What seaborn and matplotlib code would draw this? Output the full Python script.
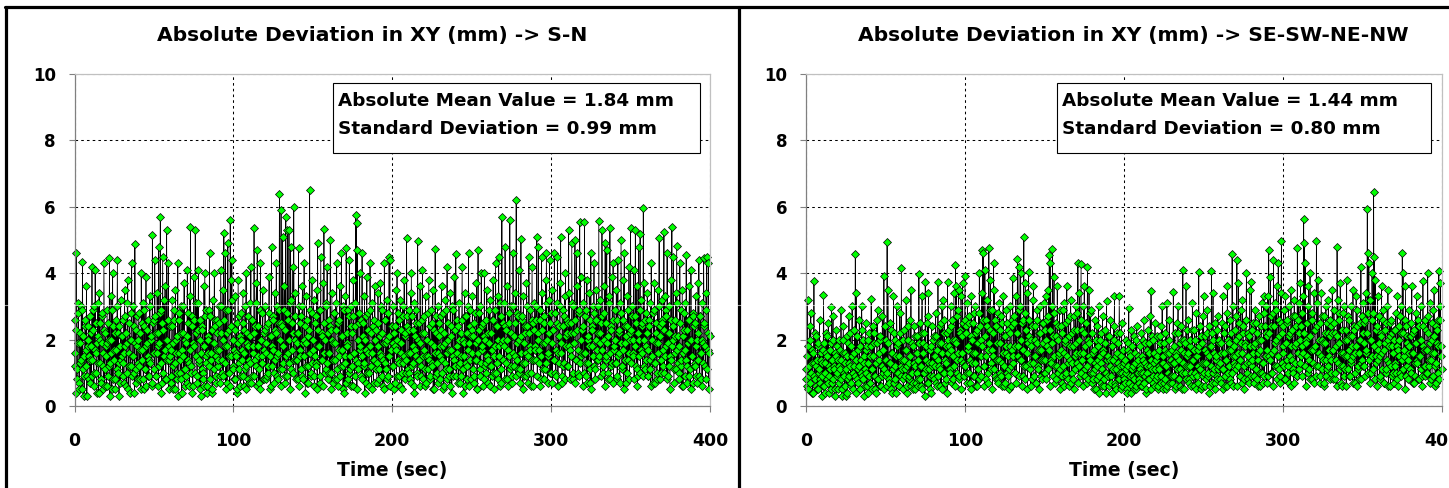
import numpy as np
import pandas as pd
import matplotlib
matplotlib.use("Agg")
import matplotlib.pyplot as plt
from matplotlib.lines import Line2D
from matplotlib.patches import Rectangle
import seaborn as sns

# ---------------- data (read/estimated from the picture) ----------------
SAMPLE_STEP = 0.5   # seconds between samples within one list
HALF_OFFSET = 0.25  # second list is sampled half-way between the first

titles = ["Absolute Deviation in XY (mm) -> S-N",
          "Absolute Deviation in XY (mm) -> SE-SW-NE-NW"]
stats_mean = [1.84, 1.44]
stats_std = [0.99, 0.80]
x_ticks = [0, 100, 200, 300, 400]
y_ticks = [0, 2, 4, 6, 8, 10]

# S-N : samples at t = 0, 0.5, 1.0, ...
dev_sn = [
    1.2, 2.6, 4.6, 0.8, 1.9, 3.1, 0.5, 2.2, 1.4, 2.9, 4.35, 1.1, 0.3, 2.4, 1.7, 3.6, 0.9, 2.0, 1.5, 2.7,
    0.7, 1.8, 4.2, 2.3, 1.0, 3.0, 4.1, 1.6, 0.4, 2.1, 1.3, 3.4, 2.5, 0.8, 1.9, 2.8, 1.2, 4.3, 0.6, 2.2,
    1.5, 2.9, 0.9, 2.0, 4.45, 1.3, 3.3, 0.5, 4.0, 2.4, 1.7, 0.8, 2.6, 1.1, 4.4, 2.2, 0.3, 1.8, 3.2, 1.4,
    2.1, 0.9, 1.6, 3.5, 2.7, 0.6, 1.9, 3.8, 1.2, 2.5, 0.4, 2.0, 4.3, 1.5, 3.0, 1.0, 4.87, 2.3, 0.7, 1.8,
    1.3, 2.8, 0.8, 2.2, 4.0, 1.7, 3.1, 0.5, 2.4, 1.1, 3.9, 1.9, 0.9, 2.6, 1.4, 3.3, 2.0, 0.6, 5.14, 2.5,
    1.6, 4.4, 2.2, 0.9, 3.4, 1.8, 4.8, 1.2, 5.7, 2.9, 0.7, 4.5, 2.3, 1.5, 3.6, 0.8, 5.3, 2.0, 4.3, 1.4,
    2.4, 0.9, 1.7, 3.2, 0.5, 2.6, 1.3, 3.5, 2.0, 0.8, 4.3, 1.6, 2.8, 1.0, 3.0, 0.4, 2.2, 1.5, 3.7, 1.1,
    1.9, 0.7, 4.1, 2.5, 1.3, 3.3, 5.4, 1.0, 2.7, 0.6, 3.9, 1.8, 5.3, 2.2, 0.9, 3.1, 4.1, 1.4, 2.6, 0.3,
    1.1, 2.3, 0.8, 3.6, 4.0, 1.5, 2.9, 0.6, 2.0, 1.2, 4.6, 2.7, 1.6, 0.4, 3.2, 1.9, 4.0, 2.4, 0.9, 1.7,
    2.6, 1.4, 3.0, 0.9, 4.1, 2.2, 1.0, 3.5, 5.2, 1.8, 4.6, 2.9, 0.7, 4.9, 2.3, 1.5, 5.6, 3.8, 4.4, 1.2,
    2.0, 0.8, 3.3, 1.6, 2.5, 0.5, 3.8, 1.3, 2.1, 0.9, 2.8, 1.7, 3.4, 0.6, 2.3, 1.1, 4.0, 1.9, 0.8, 2.7,
    1.4, 3.1, 4.2, 0.9, 2.6, 1.8, 5.35, 2.4, 1.2, 3.7, 4.7, 1.5, 0.7, 2.9, 4.3, 2.0, 1.3, 3.5, 0.8, 2.2,
    3.0, 1.6, 0.9, 2.5, 1.2, 3.9, 2.1, 0.6, 4.8, 1.8, 2.7, 1.0, 3.4, 2.3, 4.3, 1.5, 0.8, 2.9, 6.4, 2.0,
    5.9, 2.4, 5.1, 1.3, 3.6, 0.9, 5.7, 2.8, 5.3, 1.6, 5.3, 3.1, 4.8, 1.1, 2.5, 4.2, 6.0, 2.0, 3.4, 1.4,
    2.2, 0.8, 4.75, 3.0, 1.5, 2.7, 0.9, 3.6, 1.9, 4.3, 2.4, 1.2, 3.3, 0.7, 2.1, 1.6, 6.5, 2.9, 1.0, 3.8,
    1.7, 3.2, 0.6, 2.5, 1.3, 3.5, 4.9, 1.8, 2.9, 0.9, 4.5, 2.2, 1.4, 3.7, 5.33, 2.0, 1.1, 3.0, 4.2, 1.6,
    2.6, 1.0, 5.0, 2.3, 3.4, 0.7, 1.9, 2.8, 1.4, 3.1, 4.3, 0.8, 2.5, 1.7, 3.6, 1.2, 4.6, 2.1, 0.5, 2.9,
    1.5, 3.3, 4.75, 1.9, 0.8, 2.7, 4.4, 1.1, 3.0, 2.2, 0.6, 3.8, 1.6, 2.4, 5.75, 5.5, 4.7, 1.3, 2.8, 4.0,
    1.8, 0.9, 4.6, 2.5, 1.2, 3.3, 2.0, 0.7, 3.9, 1.6, 2.8, 1.0, 4.3, 2.2, 0.5, 3.1, 1.4, 2.6, 3.6, 1.1,
    2.3, 1.3, 3.4, 0.8, 2.1, 3.7, 1.5, 2.9, 0.6, 1.9, 4.3, 2.6, 1.1, 3.2, 2.0, 0.9, 4.5, 4.4, 1.7, 2.4,
    1.2, 3.0, 2.2, 0.7, 1.8, 3.5, 4.0, 1.4, 2.6, 0.9, 3.2, 1.9, 0.5, 2.7, 1.3, 3.8, 2.1, 1.0, 5.06, 2.4,
    1.6, 2.9, 0.8, 3.4, 4.0, 1.2, 2.3, 0.6, 3.1, 1.7, 2.5, 1.0, 4.98, 2.0, 1.4, 3.6, 0.9, 2.2, 4.1, 1.5,
    2.7, 1.1, 3.3, 0.7, 2.0, 1.5, 3.8, 2.4, 0.9, 2.9, 1.3, 3.5, 1.8, 0.5, 4.73, 2.2, 1.0, 3.0, 1.6, 2.5,
    0.8, 2.3, 3.6, 1.4, 2.8, 0.6, 1.9, 3.2, 1.1, 4.2, 2.5, 0.9, 1.7, 3.4, 2.1, 0.4, 2.9, 1.5, 3.9, 1.2,
    4.57, 1.8, 2.6, 0.7, 3.1, 1.3, 2.2, 0.9, 4.2, 2.0, 1.5, 3.4, 0.6, 2.7, 1.2, 3.0, 4.6, 1.9, 2.4, 0.8,
    1.6, 3.3, 2.1, 0.9, 2.8, 1.4, 3.7, 0.5, 4.7, 2.3, 1.1, 3.0, 4.0, 1.7, 2.5, 0.8, 4.0, 2.0, 1.3, 3.5,
    2.2, 0.7, 1.9, 3.2, 1.2, 2.6, 0.9, 3.8, 1.5, 2.9, 4.3, 1.0, 2.4, 3.3, 4.5, 1.8, 0.6, 2.7, 5.7, 2.0,
    1.4, 3.1, 4.8, 2.3, 0.8, 3.6, 1.7, 2.5, 5.6, 1.2, 3.0, 0.9, 4.6, 2.1, 1.5, 3.4, 6.2, 2.8, 1.1, 4.1,
    2.0, 0.7, 5.03, 2.6, 1.3, 3.3, 0.9, 2.2, 1.6, 3.7, 2.4, 1.0, 4.5, 1.8, 2.9, 0.6, 4.2, 2.5, 1.4, 3.1,
    1.7, 3.0, 5.1, 2.2, 4.8, 1.3, 2.6, 0.8, 4.5, 3.4, 1.9, 2.7, 1.1, 3.8, 4.6, 2.0, 1.5, 3.2, 4.4, 2.5,
    1.0, 3.5, 2.3, 1.4, 4.6, 2.8, 0.9, 3.1, 4.5, 1.6, 2.4, 3.7, 5.08, 1.9, 0.7, 2.9, 1.3, 3.3, 4.0, 2.1,
    2.6, 1.2, 5.3, 3.4, 1.7, 2.5, 4.9, 0.8, 3.0, 2.2, 5.0, 1.4, 4.6, 3.6, 1.0, 2.8, 5.54, 3.9, 1.5, 2.3,
    3.1, 1.6, 5.53, 2.7, 0.9, 3.8, 2.0, 1.3, 3.4, 0.7, 4.6, 2.4, 1.8, 3.0, 4.3, 1.1, 2.6, 3.5, 1.4, 2.2,
    5.58, 1.9, 3.2, 2.5, 5.3, 1.0, 2.8, 3.6, 4.9, 1.5, 4.7, 2.1, 0.8, 3.3, 5.35, 2.4, 1.2, 3.9, 4.3, 1.7,
    2.9, 1.3, 3.5, 0.8, 4.4, 2.2, 1.6, 3.1, 5.0, 1.1, 2.6, 3.8, 4.6, 1.9, 0.7, 2.4, 3.3, 1.4, 4.2, 2.0,
    5.37, 2.3, 3.0, 1.5, 4.1, 2.7, 5.3, 1.2, 3.6, 0.9, 4.8, 2.0, 5.18, 3.2, 1.6, 2.5, 5.95, 3.7, 1.1, 2.8,
    1.8, 3.4, 0.9, 2.6, 1.4, 3.1, 4.3, 2.0, 0.7, 2.9, 3.7, 1.3, 2.2, 0.8, 3.5, 1.9, 5.07, 2.4, 1.0, 3.2,
    2.5, 1.2, 5.23, 3.3, 1.8, 2.7, 4.6, 0.9, 3.0, 2.2, 1.5, 3.8, 5.4, 2.0, 4.5, 1.1, 2.6, 3.4, 4.83, 1.7,
    2.1, 0.8, 4.3, 2.9, 1.4, 3.5, 0.6, 2.3, 1.7, 3.1, 4.55, 1.2, 2.6, 0.9, 3.6, 2.0, 4.1, 1.5, 2.8, 0.7,
    2.4, 1.3, 3.3, 0.9, 2.0, 3.7, 4.4, 1.6, 2.7, 0.8, 3.1, 1.9, 4.45, 2.5, 1.2, 3.4, 4.5, 2.2, 4.3, 1.6,
]

# S-N : samples at t = 0.25, 0.75, 1.25, ...
dev_sn_mid = [
    1.6, 0.4, 2.3, 1.1, 2.8, 0.7, 1.9, 1.3, 3.0, 0.5, 2.1, 1.5, 0.9, 2.6, 1.2, 0.3, 1.8, 2.4, 0.8, 1.4,
    2.2, 0.9, 1.4, 2.9, 0.6, 1.7, 2.5, 1.0, 1.9, 3.1, 0.4, 1.3, 2.0, 0.7, 2.7, 1.6, 0.5, 2.3, 1.1, 1.8,
    0.6, 1.9, 2.5, 1.2, 0.3, 2.0, 1.6, 2.9, 0.8, 1.4, 2.2, 0.5, 1.7, 3.0, 1.0, 2.4, 1.3, 0.7, 2.1, 1.5,
    1.3, 2.6, 0.7, 1.8, 2.2, 1.0, 3.1, 0.5, 1.6, 2.0, 1.2, 2.8, 0.9, 1.5, 2.4, 0.4, 1.9, 1.1, 2.7, 0.8,
    2.0, 1.2, 1.7, 0.5, 2.5, 1.4, 0.8, 2.9, 1.1, 1.8, 0.6, 2.3, 1.5, 0.9, 3.0, 1.3, 2.1, 0.7, 1.6, 2.6,
    1.1, 2.7, 0.9, 1.6, 2.2, 0.6, 1.9, 2.8, 1.3, 0.4, 2.5, 1.0, 3.2, 1.7, 0.8, 2.0, 1.4, 2.6, 0.5, 1.8,
    1.5, 0.7, 2.4, 1.2, 1.9, 2.9, 0.5, 1.6, 2.1, 1.0, 0.3, 2.6, 1.4, 0.8, 2.2, 1.7, 3.0, 1.1, 0.6, 2.0,
    0.9, 2.1, 1.4, 2.8, 0.6, 1.7, 1.2, 2.4, 0.4, 1.9, 2.6, 1.0, 1.5, 3.1, 0.7, 2.3, 1.3, 0.5, 2.0, 1.6,
    2.4, 1.0, 0.6, 1.8, 2.7, 1.3, 0.4, 2.1, 1.6, 2.9, 0.8, 1.4, 2.3, 0.5, 1.9, 1.1, 2.6, 0.7, 1.5, 2.2,
    1.2, 2.5, 1.7, 0.7, 3.0, 1.4, 2.0, 0.9, 2.6, 1.3, 0.5, 2.2, 1.8, 2.9, 1.0, 0.6, 2.4, 1.5, 3.2, 1.1,
    1.7, 0.8, 2.3, 1.5, 0.4, 1.9, 2.7, 1.1, 0.6, 2.0, 1.4, 2.5, 0.9, 1.6, 3.0, 1.2, 0.5, 2.2, 1.8, 0.7,
    2.1, 1.3, 0.7, 2.6, 1.6, 0.9, 2.2, 1.4, 3.1, 0.6, 1.8, 2.4, 1.1, 0.5, 2.0, 1.5, 2.8, 0.8, 1.7, 2.3,
    0.8, 1.9, 2.4, 1.0, 2.8, 1.5, 0.5, 2.1, 1.2, 1.7, 2.6, 0.7, 1.4, 2.2, 0.9, 3.0, 1.6, 2.5, 1.1, 0.6,
    2.5, 1.1, 1.8, 2.9, 0.7, 2.3, 1.5, 0.9, 2.6, 1.3, 2.0, 0.5, 3.2, 1.7, 2.2, 1.0, 1.4, 2.7, 0.8, 1.9,
    1.4, 2.2, 0.6, 1.7, 2.5, 1.1, 3.0, 0.8, 1.5, 2.0, 0.4, 1.9, 2.6, 1.2, 0.7, 2.3, 1.6, 0.9, 2.8, 1.3,
    2.0, 0.9, 1.5, 2.7, 1.2, 0.5, 2.3, 1.8, 0.7, 2.9, 1.4, 2.1, 0.6, 1.6, 2.5, 1.0, 3.1, 1.3, 0.8, 2.2,
    1.6, 2.4, 1.0, 0.5, 2.0, 1.4, 2.8, 0.8, 1.9, 2.3, 1.1, 0.6, 2.6, 1.5, 0.9, 2.1, 1.7, 3.0, 1.2, 0.4,
    1.3, 0.7, 2.2, 1.8, 2.9, 1.0, 1.5, 0.6, 2.4, 1.2, 2.7, 1.6, 0.9, 3.1, 1.4, 0.5, 2.0, 1.1, 2.5, 1.7,
    2.6, 1.5, 0.8, 2.1, 1.3, 0.4, 2.7, 1.7, 1.0, 2.3, 0.6, 1.8, 2.9, 1.2, 1.6, 2.4, 0.7, 1.4, 2.0, 1.1,
    0.7, 1.8, 2.5, 1.1, 1.6, 3.0, 0.9, 2.2, 1.4, 0.5, 2.6, 1.3, 1.9, 0.8, 2.8, 1.5, 2.1, 0.6, 1.7, 2.4,
    1.9, 1.2, 0.5, 2.4, 1.7, 0.9, 2.0, 2.8, 1.3, 0.6, 1.6, 2.3, 1.0, 3.0, 1.5, 0.8, 2.2, 1.4, 2.7, 1.1,
    1.0, 2.3, 1.6, 0.7, 2.7, 1.3, 1.8, 0.4, 2.1, 1.5, 2.9, 0.9, 1.4, 2.5, 0.6, 1.9, 1.2, 2.6, 0.8, 1.7,
    2.2, 0.6, 1.5, 2.0, 1.1, 2.8, 1.4, 0.8, 1.9, 2.5, 1.2, 0.5, 2.3, 1.6, 0.9, 2.7, 1.3, 0.7, 2.1, 1.8,
    1.5, 2.7, 1.0, 1.8, 0.5, 2.2, 1.3, 2.9, 0.8, 1.6, 2.0, 1.1, 0.6, 2.4, 1.7, 3.0, 0.9, 1.4, 2.3, 1.2,
    0.9, 1.6, 2.4, 1.2, 2.0, 0.7, 1.5, 2.6, 1.1, 0.4, 1.9, 2.7, 1.3, 0.8, 2.2, 1.7, 0.6, 2.9, 1.4, 2.1,
    2.3, 1.1, 0.7, 2.5, 1.4, 1.9, 0.5, 2.0, 1.6, 2.8, 0.9, 1.3, 2.4, 1.8, 0.6, 2.1, 1.2, 2.6, 1.0, 1.5,
    1.4, 2.9, 1.2, 0.6, 2.2, 1.7, 2.6, 1.0, 0.5, 1.8, 2.4, 1.3, 0.8, 2.0, 1.5, 3.1, 1.1, 0.7, 1.9, 2.5,
    1.8, 0.8, 2.4, 1.3, 2.0, 0.6, 2.8, 1.5, 1.1, 2.2, 0.7, 1.6, 3.0, 1.2, 2.5, 0.9, 1.9, 1.4, 2.7, 1.0,
    1.1, 2.1, 1.6, 2.7, 0.5, 1.9, 1.3, 2.4, 0.9, 3.0, 1.5, 0.7, 2.2, 1.7, 1.0, 2.6, 1.4, 0.6, 2.3, 1.8,
    2.6, 1.4, 0.9, 2.0, 1.7, 2.9, 0.6, 1.5, 2.3, 1.1, 0.8, 2.5, 1.9, 1.3, 3.1, 0.7, 1.6, 2.2, 1.0, 2.8,
    1.9, 0.7, 2.3, 1.4, 2.8, 1.0, 1.7, 2.5, 0.6, 2.1, 1.3, 3.0, 1.6, 0.9, 2.4, 1.2, 2.7, 0.8, 1.8, 2.2,
    1.2, 2.5, 1.8, 0.8, 2.2, 1.5, 3.1, 1.0, 1.9, 2.6, 0.7, 1.4, 2.3, 1.7, 0.9, 2.9, 1.3, 2.0, 1.6, 0.6,
    2.4, 1.0, 1.6, 2.9, 1.3, 0.7, 2.1, 1.8, 2.6, 1.1, 0.5, 2.3, 1.5, 2.8, 1.2, 0.8, 2.0, 1.7, 3.0, 1.4,
    1.5, 2.2, 0.9, 1.7, 2.7, 1.2, 2.0, 0.6, 1.4, 2.5, 1.9, 1.0, 3.1, 1.6, 0.8, 2.3, 1.3, 2.6, 0.7, 1.8,
    2.0, 1.3, 2.6, 0.9, 1.5, 2.3, 0.7, 1.9, 2.8, 1.2, 1.7, 0.5, 2.4, 1.4, 2.1, 1.0, 2.9, 1.6, 0.8, 2.2,
    1.3, 2.7, 1.6, 2.0, 0.8, 1.8, 2.5, 1.1, 0.6, 2.2, 1.5, 2.9, 1.0, 1.7, 2.4, 0.9, 2.0, 1.2, 2.6, 1.4,
    2.2, 0.9, 1.7, 2.4, 1.1, 0.6, 2.0, 1.5, 2.8, 1.3, 0.7, 1.9, 2.5, 1.0, 1.6, 3.0, 0.8, 2.1, 1.4, 2.6,
    1.7, 2.3, 1.0, 1.5, 2.9, 0.8, 1.9, 2.2, 1.2, 0.5, 2.6, 1.4, 1.8, 2.4, 0.7, 1.6, 2.1, 1.1, 3.1, 1.3,
    1.0, 1.8, 2.5, 1.2, 0.6, 2.1, 1.6, 2.8, 0.9, 1.4, 2.3, 0.7, 1.9, 2.6, 1.1, 0.5, 2.0, 1.5, 2.7, 1.2,
    2.5, 1.2, 1.8, 0.7, 2.2, 1.4, 0.9, 2.7, 1.6, 2.0, 0.6, 1.3, 2.4, 1.8, 0.8, 2.9, 1.1, 1.7, 0.5, 2.1,
]

# SE-SW-NE-NW : samples at t = 0, 0.5, 1.0, ...
dev_diag = [
    1.1, 0.6, 3.19, 1.8, 0.9, 2.4, 2.8, 1.3, 0.4, 1.6, 3.77, 0.8, 2.1, 1.2, 0.5, 1.9, 1.0, 2.6, 0.7, 1.4,
    0.9, 1.7, 3.34, 0.6, 1.3, 2.2, 0.8, 1.5, 2.5, 0.4, 1.1, 1.9, 2.98, 0.7, 2.7, 1.2, 0.5, 1.6, 2.3, 1.0,
    1.4, 0.7, 2.0, 1.1, 2.9, 0.5, 1.6, 2.4, 0.9, 1.3, 0.3, 2.1, 1.5, 0.8, 2.7, 1.2, 0.6, 1.8, 3.0, 1.0,
    1.2, 2.3, 4.58, 3.4, 0.8, 1.7, 1.1, 2.6, 0.5, 1.4, 3.0, 0.9, 2.0, 1.3, 0.6, 2.5, 1.0, 1.8, 0.4, 2.2,
    1.5, 0.7, 3.22, 1.1, 2.4, 0.9, 1.9, 0.5, 1.3, 2.6, 2.9, 0.8, 1.6, 2.1, 0.6, 1.2, 2.7, 1.0, 3.92, 1.4,
    0.9, 2.0, 4.94, 3.5, 1.3, 0.7, 2.5, 1.6, 0.4, 1.1, 3.3, 2.2, 0.8, 1.5, 3.0, 1.0, 1.9, 0.6, 2.8, 1.2,
    4.16, 1.4, 0.8, 2.3, 1.1, 1.7, 3.2, 0.6, 2.0, 1.3, 0.9, 2.6, 3.5, 1.0, 1.8, 0.5, 2.4, 1.2, 0.7, 2.1,
    1.6, 0.8, 3.97, 1.2, 2.5, 0.6, 3.3, 1.9, 1.0, 2.2, 3.73, 1.4, 0.7, 2.7, 3.4, 1.1, 0.5, 1.8, 2.4, 1.3,
    0.9, 2.1, 1.5, 2.8, 0.7, 1.7, 3.73, 1.2, 2.4, 0.6, 1.9, 3.0, 3.2, 1.0, 2.6, 1.4, 0.8, 2.2, 3.75, 1.6,
    2.3, 1.1, 3.0, 1.7, 2.6, 0.8, 3.4, 2.0, 4.25, 3.6, 1.4, 2.9, 3.5, 0.9, 2.2, 3.3, 1.6, 3.7, 2.5, 1.2,
    3.92, 2.4, 1.0, 3.1, 1.8, 2.7, 0.7, 2.1, 3.3, 1.3, 2.5, 0.9, 1.6, 3.0, 2.2, 0.6, 1.9, 2.8, 4.0, 1.5,
    2.0, 3.4, 4.7, 4.6, 1.2, 4.1, 2.6, 0.8, 3.2, 1.7, 4.76, 2.3, 3.8, 1.1, 2.9, 1.5, 4.3, 3.5, 0.9, 2.4,
    1.4, 2.8, 0.7, 3.1, 1.9, 0.9, 2.5, 1.3, 3.3, 0.6, 2.1, 1.6, 2.9, 1.0, 2.3, 0.5, 1.8, 3.0, 1.2, 2.6,
    3.86, 1.5, 2.7, 1.0, 3.3, 2.2, 4.42, 1.8, 4.2, 3.0, 4.0, 1.4, 2.5, 0.9, 5.1, 2.8, 3.7, 1.2, 3.4, 2.0,
    4.03, 2.6, 1.3, 2.0, 0.8, 3.2, 3.6, 1.5, 2.4, 0.7, 1.9, 2.9, 1.1, 2.2, 3.0, 0.9, 1.7, 2.5, 1.4, 3.1,
    2.3, 1.0, 3.3, 1.8, 2.7, 3.5, 4.55, 4.3, 1.4, 3.0, 4.72, 2.1, 3.9, 1.2, 2.5, 0.8, 3.6, 2.0, 1.5, 2.9,
    1.1, 2.4, 0.7, 2.9, 1.6, 3.1, 2.0, 0.9, 3.6, 1.3, 2.6, 0.6, 1.8, 3.2, 1.0, 2.2, 0.8, 2.7, 1.5, 3.0,
    1.9, 2.8, 4.3, 1.2, 3.4, 0.9, 4.27, 2.3, 1.6, 3.0, 3.6, 1.1, 2.5, 0.7, 4.18, 2.0, 3.5, 1.4, 2.9, 1.0,
    2.2, 0.8, 1.7, 2.6, 1.1, 0.5, 2.4, 1.4, 3.0, 0.9, 2.0, 1.3, 0.6, 2.7, 1.6, 0.8, 2.3, 1.0, 3.16, 1.5,
    0.9, 2.1, 1.4, 2.6, 0.7, 1.8, 1.1, 2.4, 3.3, 0.6, 1.5, 2.2, 0.8, 1.9, 3.3, 1.2, 0.5, 2.5, 1.0, 1.7,
    1.3, 0.7, 2.0, 1.1, 0.4, 1.7, 2.95, 0.9, 1.5, 2.3, 0.6, 1.2, 2.1, 0.8, 1.6, 0.5, 2.4, 1.0, 1.4, 0.7,
    1.8, 1.0, 2.2, 0.6, 1.4, 2.6, 0.9, 1.9, 0.5, 1.2, 2.3, 0.8, 1.6, 2.7, 3.46, 1.1, 0.7, 2.0, 1.3, 2.5,
    0.8, 1.5, 2.1, 0.6, 1.2, 1.9, 0.9, 2.4, 3.0, 1.3, 0.7, 1.7, 2.2, 0.5, 3.1, 1.0, 1.6, 2.6, 0.9, 1.4,
    1.7, 0.9, 3.42, 1.3, 2.2, 0.6, 1.5, 2.5, 3.0, 0.8, 1.9, 1.1, 2.4, 0.5, 4.1, 1.6, 2.0, 1.0, 3.6, 2.3,
    1.2, 2.6, 0.7, 1.8, 1.0, 2.3, 3.1, 1.4, 0.6, 2.0, 1.5, 2.8, 0.9, 1.7, 4.04, 2.4, 1.1, 0.5, 1.9, 2.7,
    3.3, 1.3, 2.1, 0.8, 1.6, 2.9, 1.0, 2.4, 0.6, 1.8, 4.07, 2.2, 3.4, 1.1, 0.7, 2.5, 1.5, 0.9, 2.7, 1.2,
    2.0, 0.8, 1.6, 2.5, 3.3, 1.1, 2.2, 0.6, 1.4, 2.8, 3.6, 1.0, 1.9, 2.6, 0.7, 1.7, 4.57, 3.0, 1.3, 2.3,
    1.5, 2.7, 4.4, 1.2, 3.7, 2.1, 0.9, 2.9, 1.6, 3.2, 2.4, 0.8, 1.9, 2.6, 4.0, 1.3, 2.2, 0.7, 3.5, 1.8,
    3.75, 1.4, 2.5, 0.9, 1.8, 2.9, 1.1, 2.2, 0.6, 1.6, 2.7, 1.0, 2.0, 3.1, 1.3, 0.7, 3.3, 2.4, 1.5, 3.0,
    2.1, 3.3, 4.7, 1.5, 3.9, 2.4, 1.0, 2.8, 4.4, 1.7, 3.1, 2.0, 3.6, 1.2, 4.3, 2.6, 0.9, 3.4, 4.97, 2.2,
    1.6, 2.9, 0.8, 3.3, 1.9, 2.5, 1.2, 3.0, 0.7, 2.2, 3.5, 1.4, 2.7, 1.0, 3.2, 1.8, 2.4, 0.9, 4.76, 2.6,
    3.1, 1.3, 3.7, 2.4, 1.8, 3.3, 5.63, 4.9, 4.3, 2.0, 1.5, 3.0, 3.6, 1.1, 4.0, 2.6, 0.8, 2.8, 1.7, 3.4,
    2.3, 1.2, 4.97, 3.1, 3.8, 1.6, 2.5, 0.9, 3.4, 2.0, 1.4, 2.7, 0.7, 1.9, 3.0, 1.1, 2.2, 3.2, 1.5, 2.6,
    1.0, 2.4, 3.5, 1.7, 2.9, 0.8, 2.2, 1.4, 4.79, 3.2, 1.9, 2.6, 3.7, 1.2, 0.6, 2.8, 1.6, 3.0, 1.1, 2.3,
    3.8, 1.5, 2.7, 0.9, 2.1, 1.3, 3.0, 1.8, 3.5, 2.4, 0.7, 1.6, 3.3, 2.9, 1.1, 2.0, 0.8, 2.5, 4.2, 1.4,
    2.2, 3.1, 1.2, 2.6, 3.4, 1.7, 5.93, 4.6, 4.3, 2.0, 3.2, 1.0, 4.0, 2.8, 6.45, 4.5, 3.8, 1.5, 2.4, 3.3,
    1.4, 2.7, 0.9, 2.2, 3.6, 1.6, 2.9, 0.7, 1.9, 2.5, 1.1, 3.0, 3.5, 1.3, 2.1, 0.6, 2.6, 1.8, 1.0, 2.3,
    2.0, 1.2, 2.8, 0.8, 3.3, 1.7, 2.4, 1.0, 3.0, 2.2, 4.6, 4.0, 1.5, 2.6, 3.6, 0.9, 2.1, 1.4, 2.9, 1.8,
    1.1, 2.5, 3.6, 1.6, 2.2, 0.7, 1.9, 2.8, 3.3, 1.3, 0.8, 2.4, 1.5, 3.0, 2.0, 0.9, 3.78, 1.7, 2.6, 1.2,
    2.3, 1.0, 4.0, 2.7, 1.4, 3.1, 0.8, 2.0, 1.6, 2.9, 3.5, 1.2, 2.4, 0.7, 1.9, 2.6, 4.06, 3.0, 3.7, 1.8,
]

# SE-SW-NE-NW : samples at t = 0.25, 0.75, 1.25, ...
dev_diag_mid = [
    0.8, 1.5, 0.5, 1.2, 2.0, 0.7, 1.0, 1.7, 0.4, 1.3, 0.9, 2.2, 0.6, 1.4, 1.8, 0.5, 1.1, 0.8, 1.6, 0.3,
    1.3, 0.6, 1.9, 1.0, 0.4, 1.6, 2.1, 0.7, 1.2, 0.9, 1.7, 0.5, 1.4, 2.0, 0.8, 1.1, 0.3, 1.5, 0.9, 1.8,
    0.5, 1.2, 1.7, 0.8, 1.4, 0.3, 2.0, 1.0, 0.6, 1.6, 1.1, 0.4, 1.9, 0.9, 1.3, 2.2, 0.7, 1.5, 0.5, 1.0,
    1.6, 0.9, 0.4, 1.4, 2.1, 0.7, 1.2, 1.8, 0.5, 1.0, 2.3, 0.8, 1.5, 0.3, 1.1, 1.7, 0.6, 2.0, 1.3, 0.9,
    0.7, 1.8, 1.1, 0.5, 1.5, 2.2, 0.9, 1.3, 0.4, 1.9, 0.8, 1.4, 2.0, 0.6, 1.2, 0.9, 1.7, 0.5, 1.1, 2.4,
    1.4, 0.6, 1.0, 1.9, 0.8, 1.3, 2.3, 0.5, 1.6, 1.1, 0.7, 2.0, 1.2, 0.4, 1.8, 1.0, 0.6, 1.5, 2.2, 0.9,
    1.1, 2.0, 0.5, 1.4, 0.9, 1.7, 0.4, 1.2, 2.4, 0.8, 1.5, 0.6, 1.0, 1.9, 0.7, 1.3, 2.1, 0.5, 1.6, 1.0,
    0.6, 1.4, 1.9, 0.8, 1.2, 2.2, 0.5, 1.6, 1.0, 0.3, 1.8, 1.1, 2.5, 0.7, 1.3, 0.9, 1.7, 0.4, 1.2, 2.0,
    1.5, 0.8, 1.2, 2.1, 0.6, 1.4, 0.9, 1.9, 1.1, 2.5, 0.5, 1.6, 1.0, 2.2, 0.7, 1.8, 1.3, 0.4, 2.0, 1.1,
    1.8, 1.0, 2.4, 0.7, 1.5, 2.0, 1.2, 0.6, 1.9, 2.7, 1.0, 1.6, 0.8, 2.3, 1.4, 0.5, 2.1, 1.3, 0.9, 2.6,
    1.2, 2.2, 0.7, 1.7, 2.5, 1.0, 1.4, 0.5, 2.0, 1.6, 0.9, 2.8, 1.3, 0.6, 1.9, 2.3, 1.1, 0.8, 2.4, 1.5,
    0.9, 1.8, 2.6, 1.2, 0.6, 2.1, 1.5, 2.4, 1.0, 0.7, 1.9, 2.9, 1.3, 1.7, 0.5, 2.2, 1.1, 2.6, 1.4, 0.8,
    1.9, 0.8, 1.4, 2.3, 1.0, 2.7, 0.6, 1.6, 1.2, 2.1, 0.7, 1.8, 2.5, 0.9, 1.5, 1.1, 2.2, 0.6, 1.7, 2.4,
    1.3, 2.5, 1.0, 1.8, 0.7, 2.2, 1.5, 2.9, 0.9, 1.4, 2.0, 0.6, 1.7, 2.6, 1.2, 0.8, 2.3, 1.6, 0.5, 1.9,
    2.1, 1.1, 0.6, 1.8, 2.4, 1.3, 0.9, 2.0, 1.5, 0.7, 2.6, 1.2, 1.7, 0.5, 2.2, 1.4, 0.8, 1.9, 2.5, 1.0,
    1.4, 2.0, 0.8, 2.6, 1.1, 1.7, 0.6, 2.3, 1.3, 1.9, 0.9, 2.8, 1.5, 0.7, 2.1, 1.2, 2.4, 1.0, 1.6, 0.5,
    1.7, 0.9, 2.2, 1.2, 0.6, 1.9, 2.5, 1.0, 1.5, 0.8, 2.1, 1.4, 2.7, 0.7, 1.3, 1.8, 0.5, 2.3, 1.1, 1.6,
    2.3, 1.3, 0.7, 2.0, 1.6, 2.6, 1.0, 1.4, 0.6, 2.2, 1.8, 0.9, 2.5, 1.2, 0.8, 1.9, 1.5, 2.8, 1.0, 0.7,
    1.0, 1.6, 0.5, 1.3, 2.0, 0.8, 1.2, 1.8, 0.4, 1.5, 2.2, 0.7, 1.1, 1.7, 0.6, 1.9, 1.0, 0.4, 1.4, 2.1,
    1.5, 0.6, 1.2, 0.9, 1.8, 0.4, 1.4, 2.0, 0.7, 1.1, 0.5, 1.6, 1.3, 0.8, 2.2, 1.0, 1.5, 0.6, 1.2, 0.9,
    0.8, 1.4, 1.0, 0.5, 1.9, 1.2, 0.7, 1.6, 0.4, 1.1, 1.8, 0.9, 0.5, 1.3, 2.0, 0.6, 1.0, 1.5, 0.8, 1.2,
    1.1, 0.6, 1.5, 1.0, 2.0, 0.7, 1.3, 0.4, 1.7, 1.0, 0.8, 1.9, 1.2, 0.5, 1.4, 2.1, 0.9, 1.6, 0.6, 1.1,
    1.4, 0.9, 0.5, 1.7, 1.1, 2.1, 0.7, 1.3, 0.5, 1.5, 1.9, 0.8, 1.2, 1.6, 0.6, 1.0, 2.0, 0.7, 1.3, 0.9,
    0.7, 1.3, 1.8, 0.9, 0.5, 1.6, 1.1, 2.2, 0.8, 1.4, 0.6, 1.7, 1.0, 2.0, 1.3, 0.5, 1.9, 1.2, 0.8, 1.5,
    1.6, 0.8, 1.2, 2.0, 0.6, 1.4, 0.9, 1.7, 2.3, 1.0, 0.5, 1.5, 1.2, 0.7, 1.8, 1.1, 2.1, 0.6, 1.3, 0.9,
    1.0, 1.7, 0.6, 1.3, 2.2, 0.9, 1.5, 0.4, 1.8, 1.2, 0.7, 2.0, 1.0, 1.6, 0.5, 1.4, 2.3, 0.8, 1.1, 1.9,
    1.3, 0.7, 1.9, 1.1, 0.5, 1.6, 2.4, 0.9, 1.4, 0.6, 2.0, 1.2, 1.7, 0.8, 2.2, 1.0, 1.5, 0.6, 1.8, 1.2,
    2.0, 1.1, 0.6, 1.6, 2.5, 0.9, 1.4, 1.9, 0.7, 2.2, 1.2, 0.5, 1.8, 2.6, 1.0, 1.5, 0.8, 2.1, 1.3, 0.9,
    1.2, 2.3, 1.6, 0.7, 1.9, 1.1, 2.5, 0.8, 1.4, 2.0, 0.6, 1.7, 2.4, 1.0, 1.3, 2.8, 0.9, 1.5, 2.2, 0.7,
    1.7, 0.9, 2.2, 1.4, 2.7, 1.0, 1.6, 0.6, 2.4, 1.2, 1.9, 2.9, 0.8, 1.5, 2.1, 1.1, 0.7, 2.5, 1.3, 1.8,
    2.4, 1.2, 0.8, 1.9, 1.4, 2.6, 1.0, 2.1, 1.5, 0.6, 1.8, 2.3, 1.1, 0.7, 2.7, 1.3, 1.9, 0.9, 1.6, 2.2,
    1.1, 2.0, 1.5, 2.8, 0.9, 1.6, 2.2, 1.2, 0.6, 1.9, 2.5, 1.0, 1.4, 2.1, 0.8, 1.7, 2.6, 1.3, 0.7, 2.3,
    1.8, 0.9, 2.4, 1.2, 1.6, 2.0, 0.7, 1.5, 2.7, 1.1, 1.9, 0.6, 2.2, 1.4, 0.9, 2.5, 1.2, 1.7, 0.8, 2.1,
    1.4, 2.2, 0.8, 1.7, 2.5, 1.0, 1.8, 0.6, 2.1, 1.3, 2.8, 1.1, 0.7, 1.6, 2.3, 1.2, 0.9, 2.0, 1.5, 0.6,
    2.0, 1.1, 1.7, 2.6, 0.9, 1.4, 2.1, 0.7, 1.5, 2.3, 1.0, 1.8, 0.6, 2.4, 1.2, 1.6, 2.0, 0.8, 1.3, 2.7,
    1.2, 1.9, 2.5, 0.9, 1.6, 2.2, 1.0, 2.8, 1.4, 0.7, 2.0, 1.5, 2.6, 1.1, 1.8, 0.8, 2.3, 1.3, 0.6, 1.7,
    1.9, 0.8, 1.5, 2.1, 1.1, 2.6, 0.7, 1.7, 2.3, 1.0, 1.4, 2.0, 0.6, 1.8, 2.5, 1.2, 0.9, 2.2, 1.6, 0.7,
    1.3, 2.3, 1.0, 1.8, 0.6, 2.0, 1.5, 2.7, 0.9, 1.4, 2.2, 1.1, 1.7, 0.5, 2.4, 1.2, 1.9, 0.8, 1.6, 2.1,
    2.1, 1.0, 1.6, 0.7, 2.3, 1.3, 0.9, 1.9, 1.4, 2.6, 0.8, 1.5, 2.0, 1.1, 0.6, 1.8, 2.4, 1.2, 0.9, 1.7,
    1.0, 1.7, 2.2, 1.2, 0.7, 1.9, 1.4, 2.5, 0.9, 1.6, 2.1, 0.6, 1.3, 2.3, 1.0, 1.8, 0.8, 2.6, 1.5, 1.1,
]

panels = [(dev_sn, dev_sn_mid), (dev_diag, dev_diag_mid)]

# ---------------- style ----------------
sns.set_style("white")
plt.rcParams["font.family"] = ["DejaVu Sans"]
plt.rcParams["font.weight"] = "bold"
for key in ["text.color", "axes.labelcolor", "xtick.color", "ytick.color"]:
    plt.rcParams[key] = "black"

W, H = 1449, 488
fig = plt.figure(figsize=(W / 100, H / 100), dpi=100)
fig.patch.set_facecolor("white")

axes_px = [(74.5, 635.5), (806, 636)]   # (left, width) in pixels
title_x_px = [372, 1133]
box_px = [(333, 700, 338), (1057, 1431, 1062)]  # left, right, text-left

for i, ((main_vals, mid_vals), (lx, wx)) in enumerate(zip(panels, axes_px)):
    ax = fig.add_axes([lx / W, 82 / H, wx / W, 332 / H])
    df = pd.concat([
        pd.DataFrame({"time": np.arange(len(main_vals)) * SAMPLE_STEP, "dev": main_vals}),
        pd.DataFrame({"time": np.arange(len(mid_vals)) * SAMPLE_STEP + HALF_OFFSET,
                      "dev": mid_vals}),
    ]).sort_values("time").reset_index(drop=True)
    sns.lineplot(data=df, x="time", y="dev", ax=ax, estimator=None, sort=False,
                 errorbar=None, color="black", lw=0.55, marker="D", markersize=4.5,
                 markerfacecolor="#00ff00", markeredgecolor="black",
                 markeredgewidth=0.5, clip_on=False, zorder=3)
    ax.set_xlim(0, 400)
    ax.set_ylim(0, 10)
    ax.set_xticks(x_ticks)
    ax.set_yticks(y_ticks)
    ax.set_xlabel("Time (sec)", fontsize=13.5, fontweight="bold", labelpad=8)
    ax.set_ylabel("")
    ax.tick_params(axis="x", labelsize=12.5, length=4.5, width=0.8, color="#808080",
                   labelcolor="black", pad=14, direction="out", bottom=True)
    ax.tick_params(axis="y", labelsize=12, length=4.5, width=0.8, color="#808080",
                   labelcolor="black", pad=9, direction="out", left=True)
    ax.set_axisbelow(True)
    ax.grid(True, color="black", lw=0.75, linestyle=(0, (2.5, 3)))
    for side in ["left", "bottom"]:
        ax.spines[side].set_color("#808080")
        ax.spines[side].set_linewidth(0.9)
        ax.spines[side].set_zorder(4)
    for side in ["top", "right"]:
        ax.spines[side].set_color("#c0c0c0")
        ax.spines[side].set_linewidth(0.9)
        ax.spines[side].set_zorder(4)

    # statistics text box
    bl, br, tl = box_px[i]
    x0 = (bl - lx) / wx
    x1 = (br - lx) / wx
    y0 = (406 - 153) / 332
    y1 = (406 - 83) / 332
    ax.add_patch(Rectangle((x0, y0), x1 - x0, y1 - y0, transform=ax.transAxes,
                           facecolor="white", edgecolor="black", lw=0.8, zorder=5,
                           clip_on=False))
    tx = (tl - lx) / wx
    ax.text(tx, (406 - 101.5) / 332, f"Absolute Mean Value = {stats_mean[i]:.2f} mm",
            transform=ax.transAxes, fontsize=13.2, fontweight="bold", va="center",
            ha="left", color="black", zorder=6)
    ax.text(tx, (406 - 129.5) / 332, f"Standard Deviation = {stats_std[i]:.2f} mm",
            transform=ax.transAxes, fontsize=13.2, fontweight="bold", va="center",
            ha="left", color="black", zorder=6)

    fig.text(title_x_px[i] / W, 1 - 36 / H, titles[i], ha="center", va="center",
             fontsize=14.6, fontweight="bold", color="black")

# panel frame lines
ytop = 1 - 6.5 / H
fig.add_artist(Line2D([5 / W, 1], [ytop, ytop], color="black", lw=2.3,
                      transform=fig.transFigure))
fig.add_artist(Line2D([6.5 / W, 6.5 / W], [0, ytop], color="black", lw=2.3,
                      transform=fig.transFigure))
fig.add_artist(Line2D([738.5 / W, 738.5 / W], [0, ytop], color="black", lw=2.3,
                      transform=fig.transFigure))
# faint horizontal scan line seen across the picture
fig.add_artist(Line2D([0, 1], [1 - 305 / H, 1 - 305 / H], color="white", lw=0.8,
                      alpha=0.6, transform=fig.transFigure, zorder=10))

fig.savefig("out.png", dpi=100)
